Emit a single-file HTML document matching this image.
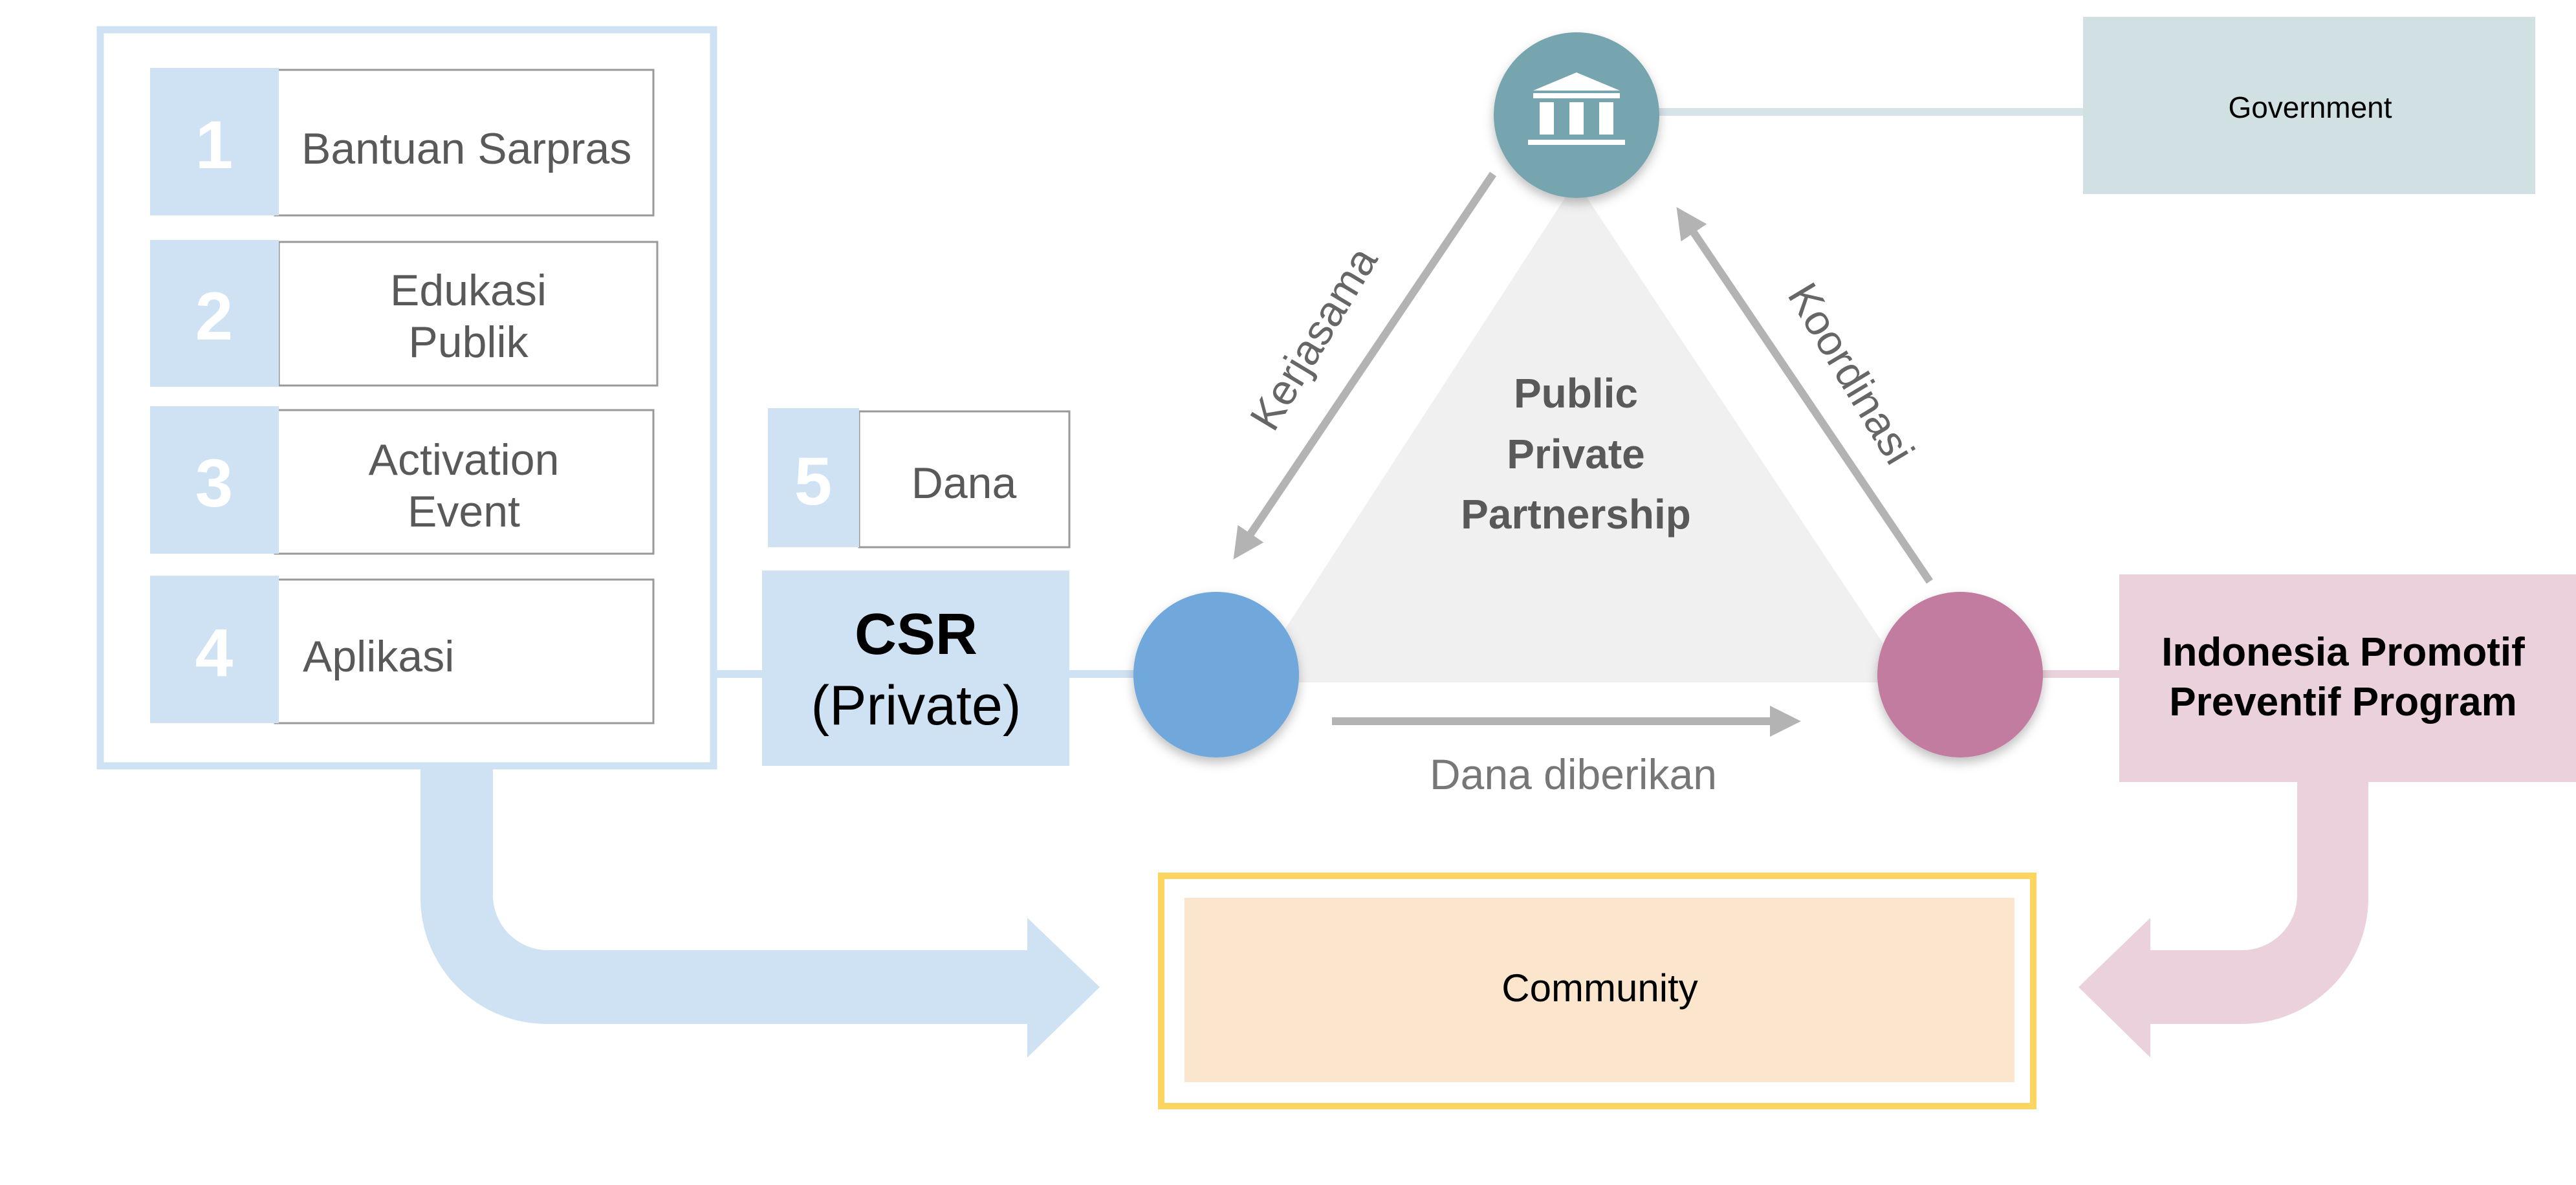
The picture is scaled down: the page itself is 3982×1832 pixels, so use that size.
<!DOCTYPE html>
<html><head><meta charset="utf-8"><style>html,body{margin:0;padding:0;background:#fff}svg{display:block}</style></head>
<body>
<svg width="3982" height="1832" viewBox="0 0 3982 1832" xmlns="http://www.w3.org/2000/svg" font-family="Liberation Sans, sans-serif">
<defs>
<filter id="sh" x="-20%" y="-20%" width="140%" height="150%"><feDropShadow dx="0" dy="8" stdDeviation="8" flood-color="#000" flood-opacity="0.25"/></filter>
<marker id="ah" viewBox="0 0 10 10" refX="5" refY="5" markerWidth="4" markerHeight="4" orient="auto"><path d="M0,0 L10,5 L0,10 z" fill="#b3b3b3"/></marker>
</defs>
<path d="M650,1189 L762,1189 L762,1384 A85,85 0 0 0 847,1469 L1588,1469 L1588,1419 L1700,1526 L1588,1635 L1588,1583 L845,1583 A195,195 0 0 1 650,1388 Z" fill="#cfe2f3"/>
<path d="M3551,1209 L3661,1209 L3661,1388 A195,195 0 0 1 3466,1583 L3324,1583 L3324,1635 L3213,1526 L3324,1419 L3324,1469 L3466,1469 A85,85 0 0 0 3551,1384 Z" fill="#ead1dc"/>
<line x1="1100" y1="1042" x2="1760" y2="1042" stroke="#cfe2f3" stroke-width="12"/>
<line x1="3150" y1="1042" x2="3280" y2="1042" stroke="#ead1dc" stroke-width="12"/>
<line x1="2560" y1="173" x2="3225" y2="173" stroke="#d6e4ea" stroke-width="12"/>
<rect x="155" y="46" width="948" height="1138" fill="#fff" stroke="#cfe2f3" stroke-width="11"/>
<g font-size="68" fill="#595959">
<rect x="425" y="108" width="585" height="225" fill="#fff" stroke="#999" stroke-width="3"/>
<rect x="232" y="105" width="199" height="228" fill="#cfe2f3"/>
<text x="466" y="253">Bantuan Sarpras</text>
<rect x="431" y="374" width="585" height="222" fill="#fff" stroke="#999" stroke-width="3"/>
<rect x="232" y="371" width="199" height="227" fill="#cfe2f3"/>
<text x="724" y="472" text-anchor="middle">Edukasi</text>
<text x="724" y="552" text-anchor="middle">Publik</text>
<rect x="425" y="634" width="585" height="222" fill="#fff" stroke="#999" stroke-width="3"/>
<rect x="232" y="628" width="199" height="228" fill="#cfe2f3"/>
<text x="717" y="734" text-anchor="middle">Activation</text>
<text x="717" y="814" text-anchor="middle">Event</text>
<rect x="425" y="896" width="585" height="222" fill="#fff" stroke="#999" stroke-width="3"/>
<rect x="232" y="890" width="199" height="228" fill="#cfe2f3"/>
<text x="468" y="1038">Aplikasi</text>
<rect x="1328" y="636" width="325" height="210" fill="#fff" stroke="#999" stroke-width="3"/>
<rect x="1187" y="631" width="141" height="215" fill="#cfe2f3"/>
<text x="1490" y="770" text-anchor="middle">Dana</text>
</g>
<g font-size="105" font-weight="bold" fill="#fff" text-anchor="middle">
<text x="331" y="260">1</text>
<text x="331" y="525">2</text>
<text x="331" y="783">3</text>
<text x="331" y="1045">4</text>
<text x="1257" y="780">5</text>
</g>
<rect x="1178" y="882" width="475" height="302" fill="#cfe2f3"/>
<text x="1416" y="1011" text-anchor="middle" font-size="90" font-weight="bold" fill="#000">CSR</text>
<text x="1416" y="1120" text-anchor="middle" font-size="86" fill="#000">(Private)</text>
<polygon points="2436,280 1933,1055 2951,1055" fill="#f0f0f0"/>
<g fill="#595959" font-size="64" font-weight="bold" text-anchor="middle">
<text x="2436" y="630">Public</text>
<text x="2436" y="724">Private</text>
<text x="2436" y="817">Partnership</text>
</g>
<line x1="2308" y1="269" x2="1920" y2="845" stroke="#b3b3b3" stroke-width="12" marker-end="url(#ah)"/>
<line x1="2983" y1="899" x2="2605" y2="340" stroke="#b3b3b3" stroke-width="12" marker-end="url(#ah)"/>
<line x1="2059" y1="1115" x2="2760" y2="1115" stroke="#b3b3b3" stroke-width="12" marker-end="url(#ah)"/>
<text transform="translate(2035,526) rotate(-59)" text-anchor="middle" dominant-baseline="middle" font-size="66" fill="#666">Kerjasama</text>
<text transform="translate(2857,580) rotate(59)" text-anchor="middle" dominant-baseline="middle" font-size="66" fill="#666">Koordinasi</text>
<text x="2432" y="1220" text-anchor="middle" font-size="66" fill="#777">Dana diberikan</text>
<circle cx="2437" cy="178" r="128" fill="#76a5af" filter="url(#sh)"/>
<g fill="#fff">
<polygon points="2437,112 2370,140 2504,140"/>
<rect x="2370" y="144" width="134" height="8"/>
<rect x="2380" y="158" width="22" height="50"/>
<rect x="2426" y="158" width="22" height="50"/>
<rect x="2472" y="158" width="22" height="50"/>
<rect x="2362" y="216" width="150" height="8"/>
</g>
<circle cx="1880" cy="1043" r="128" fill="#6fa8dc" filter="url(#sh)"/>
<circle cx="3030" cy="1043" r="128" fill="#c27ba0" filter="url(#sh)"/>
<rect x="3220" y="26" width="699" height="274" fill="#d0e0e3"/>
<text x="3571" y="182" text-anchor="middle" font-size="46" fill="#000">Government</text>
<rect x="3276" y="888" width="706" height="321" fill="#ead1dc"/>
<g font-size="62" font-weight="bold" fill="#000" text-anchor="middle">
<text x="3622" y="1029">Indonesia Promotif</text>
<text x="3622" y="1106">Preventif Program</text>
</g>
<rect x="1795" y="1354" width="1348" height="356" fill="#fff" stroke="#fcd561" stroke-width="10"/>
<rect x="1831" y="1388" width="1283" height="285" fill="#fce5cd"/>
<text x="2473" y="1548" text-anchor="middle" font-size="60" fill="#000">Community</text>
</svg>
</body></html>
